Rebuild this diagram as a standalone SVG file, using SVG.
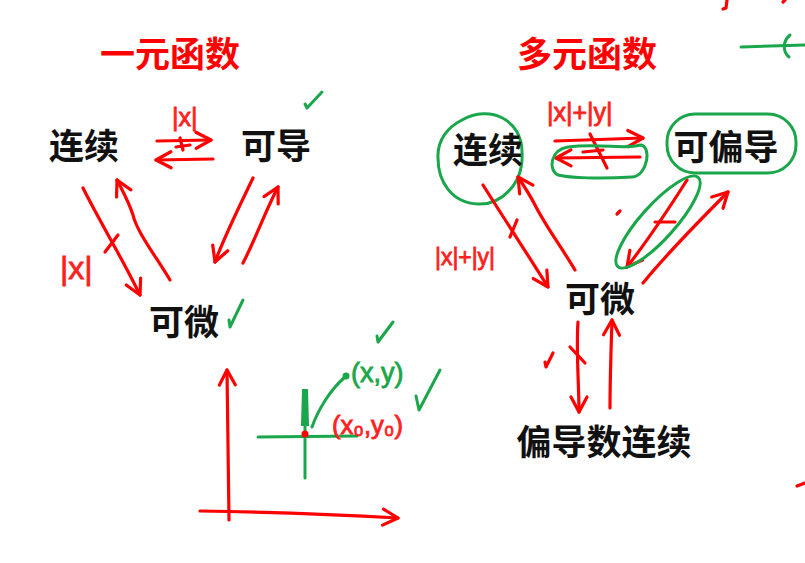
<svg xmlns="http://www.w3.org/2000/svg" width="805" height="563" viewBox="0 0 805 563">
<style>
.title{font-family:"Noto Sans CJK SC","Noto Sans",sans-serif;font-weight:bold;font-size:35px;fill:#ff0000;text-anchor:middle}
.lbl{font-family:"Noto Sans CJK SC","Noto Sans",sans-serif;font-weight:bold;font-size:35px;fill:#111;text-anchor:middle}
.hand{font-family:"Liberation Sans",sans-serif;fill:#ff2020;stroke:#ff2020;stroke-width:0.8}
.handg{font-family:"Liberation Sans",sans-serif;fill:#1aa64a;stroke:#1aa64a;stroke-width:0.8}
.r{fill:none;stroke:#ff0000;stroke-width:3.2;stroke-linecap:round;stroke-linejoin:round}
.ra{fill:none;stroke:#ff0000;stroke-width:3.2;stroke-linecap:round;stroke-linejoin:round;marker-end:url(#ah)}
.g{fill:none;stroke:#1aa64a;stroke-width:3;stroke-linecap:round;stroke-linejoin:round}
</style>
<defs>
<marker id="ah" markerUnits="userSpaceOnUse" markerWidth="24" markerHeight="24" refX="0" refY="0" viewBox="-18 -12 24 24" orient="auto">
<path d="M-15,-8 L0,0 L-15,8" fill="none" stroke="#ff0000" stroke-width="3.2" stroke-linecap="round" stroke-linejoin="round"/>
</marker>
</defs>
<rect width="805" height="563" fill="#ffffff"/>

<g id="title-left"><text class="title" x="170" y="67">一元函数</text></g>
<g id="title-right"><text class="title" x="587" y="67">多元函数</text></g>

<g id="node-l-continuous"><text class="lbl" x="84" y="159">连续</text></g>
<g id="node-l-derivable"><text class="lbl" x="276" y="159">可导</text></g>
<g id="node-l-differentiable"><text class="lbl" x="184" y="335">可微</text></g>

<g id="node-r-continuous">
<path class="g" d="M462,120 C490,104 522,120 522,152 C524,185 500,205 478,204 C452,203 438,182 438,158 C437,140 448,127 462,120 Z"/>
<text class="lbl" x="488" y="163">连续</text></g>
<g id="node-r-partial">
<rect class="g" x="667" y="114" width="129" height="59" rx="28"/>
<text class="lbl" x="726" y="160">可偏导</text></g>
<g id="node-r-differentiable"><text class="lbl" x="600" y="312">可微</text></g>
<g id="node-r-contpartial"><text class="lbl" x="604" y="455">偏导数连续</text></g>

<g id="connectors">
<!-- left panel -->
<path class="ra" d="M157,141 L211,140"/>
<path class="r" d="M180,138 L183,150 M176,147 L190,145"/>
<path class="ra" d="M213,159 L156,160"/>
<path class="ra" d="M83,188 C100,222 122,258 140,295"/>
<path class="r" d="M105,252 L118,235"/>
<path class="ra" d="M170,280 C155,255 137,232 133,215 C128,200 122,190 117,180"/>
<path class="ra" d="M253,178 C240,205 225,235 215,262"/>
<path class="ra" d="M243,263 C255,240 265,212 278,187"/>
<!-- right panel -->
<path class="ra" d="M555,141 L643,138"/>
<path class="ra" d="M640,157 L556,158"/>
<path class="r" d="M590,134 L607,168 M583,152 L603,150"/>
<path class="g" d="M568,147 C600,143 625,150 640,145 C652,145 648,176 632,177 C600,179 570,178 558,175 C548,170 550,150 568,147 Z"/>
<path class="ra" d="M483,185 C505,220 528,255 548,287"/>
<path class="r" d="M510,237 L517,220"/>
<path class="ra" d="M575,270 C560,245 545,225 535,205 C530,195 524,186 518,177"/>
<path class="ra" d="M687,180 C668,210 648,240 627,267"/>
<path class="r" d="M655,222 L675,222"/>
<ellipse class="g" cx="658" cy="222" rx="60" ry="17" transform="rotate(-48 658 222)"/>
<path class="ra" d="M643,283 C670,250 700,220 728,192"/>
<path class="ra" d="M578,322 C576,350 579,385 579,412"/>
<path class="r" d="M570,347 L585,363"/>
<path class="ra" d="M610,408 C610,380 611,350 612,320"/>
<!-- axes -->
<path class="ra" d="M229,520 C228,470 228,420 227,370"/>
<path class="ra" d="M200,511 C270,512 330,514 398,518"/>
<!-- green local axes -->
<path class="g" d="M258,437 L357,436"/>
<path class="g" d="M305,392 L305,478"/>
<path d="M303,390 L307,390 L308,425 L302,425 Z" fill="#1aa64a" stroke="#1aa64a" stroke-width="2"/>
<path class="g" d="M312,427 C318,410 330,390 345,377"/>
<circle cx="346" cy="376" r="3.5" fill="#1aa64a"/>
<circle cx="305" cy="434" r="3.5" fill="#ff0000"/>
<!-- top right fragments -->
<path class="g" d="M741,47 L805,45"/>
<path class="g" d="M790,35 C782,42 783,52 789,57"/>
<path class="r" d="M727,0 L726,8 L723,9"/>
<path class="r" d="M785,0 L783,2"/>
<path class="r" d="M797,486 L805,483"/>
</g>

<g id="labels">
<text class="hand" x="172" y="126" style="font-size:25px">|x|</text>
<text class="hand" x="60" y="279" style="font-size:32px">|x|</text>
<text class="hand" x="547" y="121" style="font-size:25px">|x|+|y|</text>
<text class="hand" x="435" y="265" style="font-size:23px" textLength="60" lengthAdjust="spacingAndGlyphs">|x|+|y|</text>
<text class="handg" x="351" y="382" style="font-size:27px">(x,y)</text>
<text class="hand" x="332" y="434" style="font-size:25px" textLength="71" lengthAdjust="spacingAndGlyphs">(x₀,y₀)</text>
</g>

<g id="checks">
<path class="g" d="M305,104 L307,108 L322,92"/>
<path class="g" d="M229,320 L230,327 L243,300"/>
<path class="g" d="M377,336 L378,342 L393,322"/>
<path class="g" d="M416,396 L419,410 L440,370"/>
<path class="r" d="M617,214 L620,211"/>
<path class="r" d="M545,362 L546,367 L553,353"/>
</g>
</svg>
